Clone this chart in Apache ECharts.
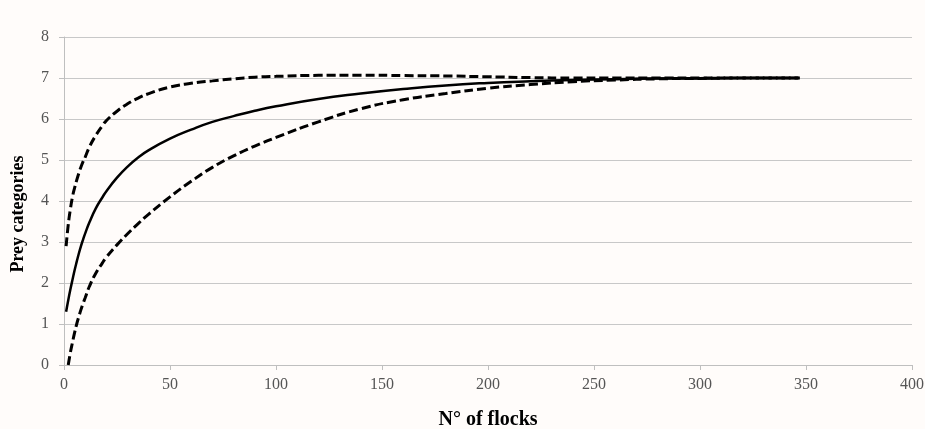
<!DOCTYPE html>
<html>
<head>
<meta charset="utf-8">
<script src="https://cdn.jsdelivr.net/npm/echarts@6/dist/echarts.min.js"></script>
<style>
html,body{margin:0;padding:0;background:#fffcfa;}
#chart{width:925px;height:429px;}
</style>
</head>
<body>
<div id="chart"></div>
<script>
var flocks = [1,2,3,4,5,6,7,8,9,10,12,15,18,20,25,30,35,40,50,60,70,80,90,100,120,140,160,180,200,220,240,260,280,300,320,347];
var meanCategories = [1.3,1.58,1.84,2.08,2.31,2.52,2.72,2.9,3.06,3.21,3.48,3.82,4.08,4.24,4.57,4.84,5.06,5.24,5.52,5.74,5.93,6.07,6.2,6.31,6.49,6.62,6.73,6.82,6.88,6.92,6.95,6.97,6.985,6.99,7.0,7.0];
var upperCategories = [2.9,3.42,3.8,4.1,4.32,4.51,4.68,4.83,4.96,5.07,5.32,5.6,5.83,5.96,6.19,6.37,6.51,6.62,6.78,6.87,6.93,6.98,7.02,7.04,7.065,7.07,7.06,7.05,7.03,7.01,7.0,7.0,7.0,7.0,7.0,7.0];
var lowerCategories = [null,0,0.3,0.55,0.79,1.0,1.18,1.35,1.5,1.64,1.92,2.24,2.48,2.63,2.93,3.2,3.45,3.68,4.1,4.48,4.82,5.1,5.34,5.55,5.93,6.25,6.47,6.62,6.75,6.84,6.91,6.95,6.98,6.99,7.0,7.0];
var xTitle = 'N° of flocks';
var yTitle = 'Prey categories';

function pairs(vals){
  var out = [];
  for (var i = 0; i < flocks.length; i++) {
    if (vals[i] !== null) out.push([flocks[i], vals[i]]);
  }
  return out;
}

var font = '"Liberation Serif", "Times New Roman", serif';
var chart = echarts.init(document.getElementById('chart'), null, {renderer:'canvas'});
var lineBase = {type:'line', showSymbol:false, symbol:'none', smooth:0.5, animation:false, silent:true};
chart.setOption({
  backgroundColor:'#fffcfa',
  animation:false,
  grid:{left:64, right:13, top:37, bottom:64, containLabel:false, outerBoundsMode:'none'},
  xAxis:{
    type:'value', min:0, max:400, interval:50,
    name:xTitle, nameLocation:'middle', nameGap:45,
    nameTextStyle:{fontFamily:font, fontSize:20, fontWeight:'bold', color:'#000'},
    axisLine:{show:true, lineStyle:{color:'#bfbfbf', width:1}},
    axisTick:{show:true, length:5, lineStyle:{color:'#bfbfbf'}},
    axisLabel:{fontFamily:font, fontSize:16, color:'#555', margin:12},
    splitLine:{show:false}
  },
  yAxis:{
    type:'value', min:0, max:8, interval:1,
    name:yTitle, nameLocation:'middle', nameGap:37,
    nameTextStyle:{fontFamily:font, fontSize:18, fontWeight:'bold', color:'#000', padding:[0,26,0,0]},
    axisLine:{show:true, lineStyle:{color:'#bfbfbf', width:1}},
    axisTick:{show:true, length:5, lineStyle:{color:'#bfbfbf'}},
    axisLabel:{fontFamily:font, fontSize:16, color:'#555', margin:15},
    splitLine:{show:true, lineStyle:{color:'#c8c8c8', width:1}}
  },
  series:[
    Object.assign({}, lineBase, {name:'upper', data:pairs(upperCategories), lineStyle:{color:'#000', width:3, type:[9,4]}}),
    Object.assign({}, lineBase, {name:'lower', data:pairs(lowerCategories), lineStyle:{color:'#000', width:3, type:[9,4]}}),
    Object.assign({}, lineBase, {name:'mean', data:pairs(meanCategories), lineStyle:{color:'#000', width:2.5, type:'solid'}})
  ]
});
</script>
</body>
</html>
